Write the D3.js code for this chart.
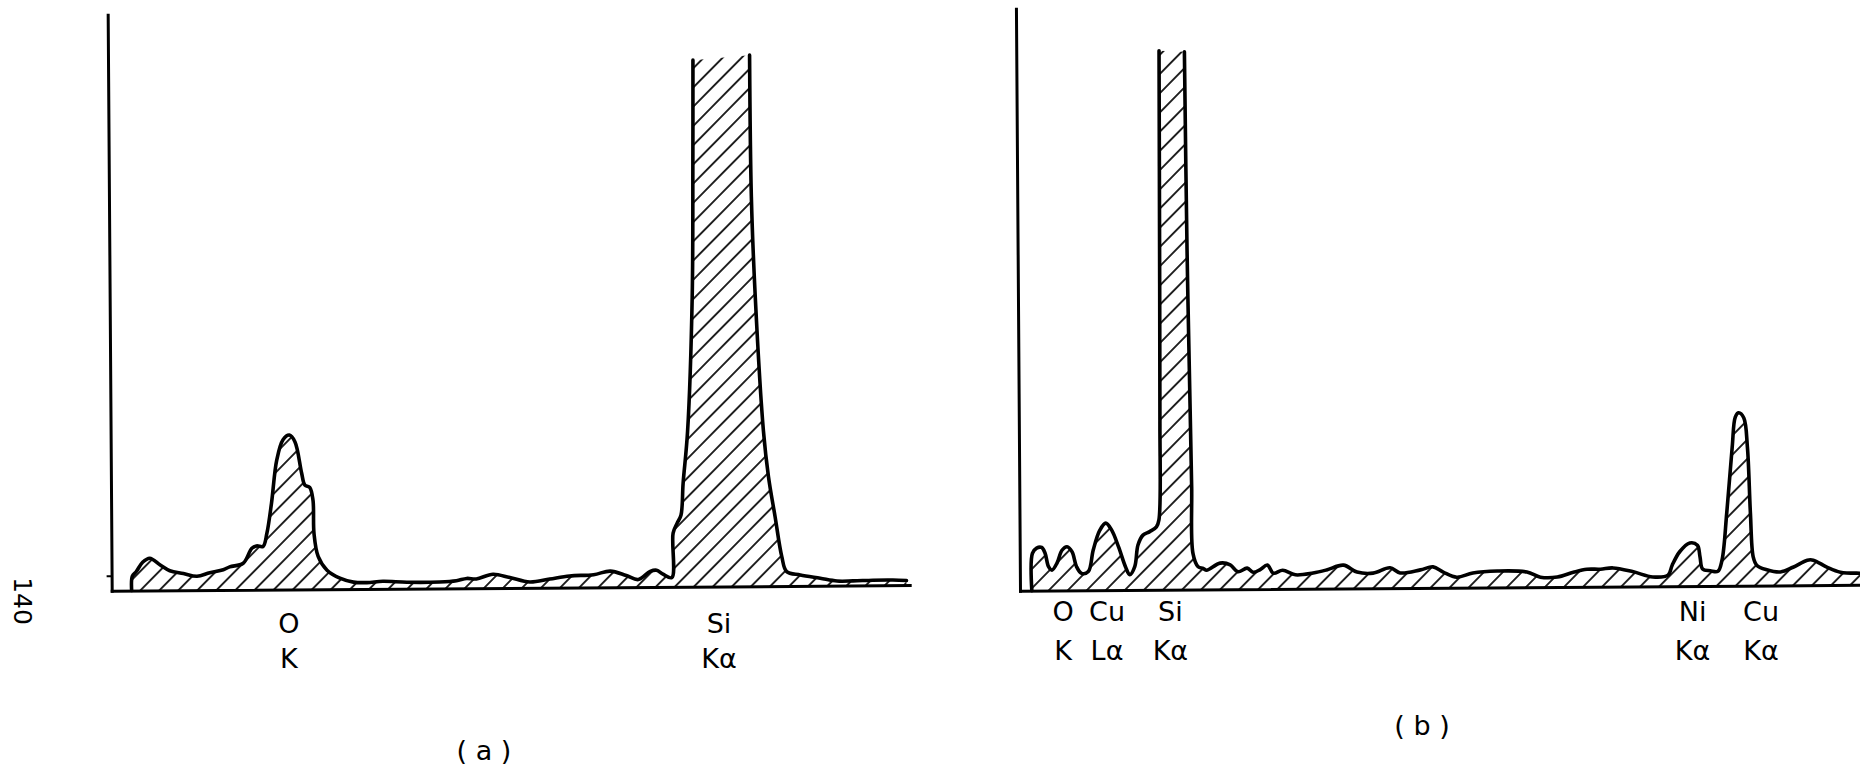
<!DOCTYPE html>
<html>
<head>
<meta charset="utf-8">
<script src="https://cdn.jsdelivr.net/npm/d3@7"></script>
<style>
  body { margin: 0; background: #fff; }
  text { font-family: "DejaVu Sans", sans-serif; fill: #000; }
</style>
</head>
<body>
<svg id="chart" width="1860" height="770"></svg>
<script>
// spectrum (a): channel / counts, null = open (cut off) top of Si peak
const chA = [2.5, 2.6, 3.1, 3.9, 4.8, 6.1, 7.3, 9.0, 10.7, 12.3, 14.0, 14.8, 16.5, 17.6, 18.2, 19.0,
    19.5, 20.1, 20.8, 21.6, 22.4, 23.1, 23.9, 24.3, 24.9, 25.3, 25.4, 25.9, 27.0, 28.6, 30.3, 32.0,
    34.0, 37.0, 41.1, 43.2, 44.5, 45.7, 47.8, 49.9, 52.4, 54.9, 57.4, 60.4, 62.5, 64.5, 66.0, 67.5,
    68.3, 69.1, 70.2, 70.4, 70.9, 71.4, 71.7, 72.3, 73.0, 73.2, 73.3, null,
    80.4, 80.5, 80.9, 81.8, 82.4, 83.2, 84.0, 84.6, 86.3, 88.8, 90.9, 92.9, 95.4, 97.9, 99.6];
const cntA = [0, 2.5, 3.3, 4.9, 5.6, 4.4, 3.4, 2.9, 2.4, 3.0, 3.5, 4.0, 4.6, 7.2, 7.6, 7.5,
    9.8, 15.0, 22.5, 26.0, 26.8, 25.6, 20.2, 18.1, 17.7, 15.5, 9.7, 5.7, 3.3, 1.9, 1.2, 1.1,
    1.3, 1.1, 1.1, 1.3, 1.7, 1.6, 2.4, 1.8, 1.0, 1.5, 2.0, 2.2, 2.8, 2.0, 1.3, 2.7,
    2.9, 2.2, 1.6, 9.3, 11.0, 12.4, 18.0, 26.9, 50.3, 73.5, 91.4, null,
    92.2, 67.6, 50.3, 27.1, 19.0, 12.0, 5.1, 2.5, 1.9, 1.3, 0.8, 0.8, 0.9, 0.9, 0.8];

// spectrum (b)
const chB = [1.4, 1.5, 2.0, 2.6, 3.0, 3.4, 3.8, 4.4, 5.0, 5.6, 6.2, 6.7, 7.3, 8.1, 8.7, 9.5,
    10.2, 10.9, 11.7, 12.5, 13.0, 13.6, 14.0, 14.6, 15.4, 16.2, 16.5, 16.7, 16.8, 16.9, null,
    19.9, 20.05, 20.3, 20.4, 20.5, 21.1, 21.7, 22.1, 23.7, 24.9, 25.8, 26.9, 27.6, 28.4, 29.3,
    30.0, 31.1, 32.6, 34.7, 36.3, 38.3, 39.9, 41.8, 43.8, 45.0, 47.4, 48.9, 50.1, 51.7, 53.6,
    56.5, 60.0, 61.6, 63.6, 65.5, 67.1, 68.7, 70.2, 72.6, 74.9, 76.7, 77.2, 78.1, 79.3, 80.2,
    80.5, 80.8, 81.7, 82.6, 83.1, 83.7, 84.4, 84.8, 85.2, 85.8, 86.2, 86.5, 86.8, 87.2, 88.4,
    90.0, 91.5, 93.2, 93.9, 95.5, 97.1, 99.4, 100];
const cntB = [0, 6.4, 7.3, 7.4, 6.4, 4.1, 3.5, 4.7, 6.9, 7.5, 6.6, 4.1, 2.9, 3.2, 6.9, 10.3,
    11.5, 10.3, 7.4, 4.0, 2.6, 4.0, 7.7, 9.4, 10.0, 10.8, 12.0, 29.2, 58.4, 92.6, null,
    92.4, 58.3, 29.1, 17.7, 6.2, 3.9, 3.6, 3.3, 4.5, 4.2, 3.0, 3.6, 2.9, 3.3, 4.1,
    2.7, 3.2, 2.4, 2.7, 3.2, 4.0, 2.8, 2.6, 3.5, 2.6, 3.1, 3.6, 2.7, 1.8, 2.5,
    2.8, 2.6, 1.7, 1.7, 2.5, 3.0, 3.0, 3.2, 2.5, 1.6, 1.9, 3.6, 5.9, 7.4, 7.0,
    5.0, 2.9, 2.6, 2.5, 4.4, 12.5, 23.8, 29.0, 29.7, 28.8, 23.8, 12.5, 4.9, 3.5, 2.7,
    2.3, 3.1, 4.3, 4.3, 3.1, 2.2, 2.0, 2.0];

// peak labels
const elemA = ["O", "Si"];
const lineA = ["K", "Kα"];
const peakChA = [22.2, 76.1];
const elemB = ["O", "Cu", "Si", "Ni", "Cu"];
const lineB = ["K", "Lα", "Kα", "Kα", "Kα"];
const peakChB = [5.1, 10.3, 17.8, 79.6, 87.7];

const tickA = [2.6]; // little mark on the (a) count axis

const svg = d3.select("#chart");
svg.append("rect").attr("width", 1860).attr("height", 770).attr("fill", "#fff");

// diagonal hatching used to fill the spectra
svg.append("defs").append("pattern")
    .attr("id", "hatch")
    .attr("patternUnits", "userSpaceOnUse")
    .attr("width", 13.5)
    .attr("height", 13.5)
    .attr("patternTransform", "rotate(45)")
    .append("line")
    .attr("x1", 6.75).attr("y1", 0)
    .attr("x2", 6.75).attr("y2", 13.5)
    .attr("stroke", "#000")
    .attr("stroke-width", 1.7);

function drawSpectrum(ch, cnt, p) {
    const pts = ch.map((c, i) => ({ x: c, y: cnt[i] }));

    const x = d3.scaleLinear().domain([0, 100]).range([0, p.width]);
    const y = d3.scaleLinear().domain([0, 100]).range([0, -p.height]);

    // the scan is turned a little, so the whole panel is too
    const g = svg.append("g")
        .attr("transform", `translate(${p.x0},${p.y0}) rotate(-0.4)`);

    const line = d3.line()
        .x(d => x(d.x)).y(d => y(d.y))
        .curve(d3.curveCatmullRom.alpha(0.5));

    // split at the open top of the big peak
    const cut = pts.findIndex(d => d.y == null);
    const left = pts.slice(0, cut), right = pts.slice(cut + 1);

    // fill follows exactly the same curves as the outline
    const first = pts[0], last = pts[pts.length - 1];
    g.append("path")
        .attr("fill", "url(#hatch)")
        .attr("d", line(left) + line(right).replace(/^M/, "L") +
            `L${x(last.x)},0L${x(first.x)},0Z`);

    // axes
    const yAxis = g.append("g")
        .call(d3.axisLeft(y).tickValues(p.ticks).tickSize(5).tickFormat("").tickSizeOuter(0));
    const xAxis = g.append("g")
        .call(d3.axisBottom(x).tickValues([]).tickSizeOuter(0));
    [yAxis, xAxis].forEach(a => {
        a.select(".domain").attr("stroke-width", 3).attr("stroke-linecap", "square");
        a.selectAll(".tick line").attr("stroke-width", 2);
    });

    [left, right].forEach(seg => {
        g.append("path")
            .attr("fill", "none")
            .attr("stroke", "#000")
            .attr("stroke-width", 3.6)
            .attr("stroke-linejoin", "round")
            .attr("stroke-linecap", "round")
            .attr("d", line(seg));
    });

    // element labels under the peaks
    const lab = svg.append("g").attr("transform", `translate(${p.x0},0)`);
    p.peaks.forEach((c, i) => {
        lab.append("text")
            .attr("x", x(c)).attr("y", p.row1)
            .attr("text-anchor", "middle")
            .style("font-size", "27px")
            .text(p.elem[i]);
        lab.append("text")
            .attr("x", x(c)).attr("y", p.row2)
            .attr("text-anchor", "middle")
            .style("font-size", "27px")
            .text(p.line[i]);
    });

    svg.append("text")
        .attr("x", p.capX).attr("y", p.capY)
        .attr("text-anchor", "middle")
        .style("font-size", "27px")
        .text(p.caption);
}

drawSpectrum(chA, cntA, {
    x0: 111.7, y0: 590.7, width: 798, height: 576, ticks: tickA,
    peaks: peakChA, elem: elemA, line: lineA, row1: 633, row2: 668,
    caption: "( a )", capX: 484, capY: 760
});

drawSpectrum(chB, cntB, {
    x0: 1020, y0: 590.7, width: 845, height: 582, ticks: [],
    peaks: peakChB, elem: elemB, line: lineB, row1: 621, row2: 660,
    caption: "( b )", capX: 1422, capY: 735
});

// page number written sideways in the margin
svg.append("text")
    .attr("transform", "translate(13.5,601) rotate(90)")
    .attr("text-anchor", "middle")
    .style("font-size", "25px")
    .text("140");
</script>
</body>
</html>
